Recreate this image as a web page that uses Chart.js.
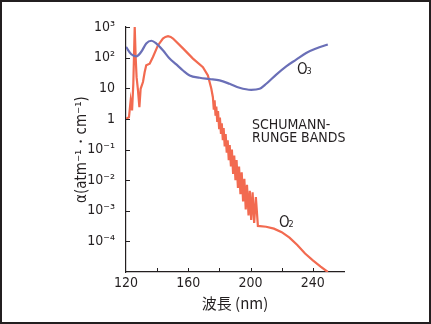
<!DOCTYPE html>
<html>
<head>
<meta charset="utf-8">
<script src="https://cdn.jsdelivr.net/npm/chart.js@4"></script>
<style>
  html, body { margin: 0; padding: 0; background: #fff; }
  canvas { display: block; }
</style>
</head>
<body>
<canvas id="absChart" width="431" height="324"></canvas>
<script>
// absorption cross sections
const o3Wavelength = [120, 123.4, 126.6, 129.8, 133, 136.3, 139.5, 143.7, 148, 152.3, 156.6, 160.9, 167.3, 173.7, 180.1, 186.5, 192.9, 200.4, 205.8, 210.1, 216.5, 222.9, 229.3, 235.7, 242.1, 249.6];
const o3Alpha = [224, 129, 110, 155, 288, 355, 288, 174, 93, 60, 38, 26, 22, 20, 18, 14, 10.4, 8.9, 9.6, 14, 28, 52, 86, 142, 198, 268];

const o2Wavelength = [120, 121.9, 123, 123.9, 124.7, 125.6, 126.2, 126.8, 127.7, 128.6, 129.4, 130.9, 132, 133, 135.2, 137.3, 140.5, 143.7, 145.3, 147, 148.7, 150.2, 156.6, 163, 169.4, 172.6, 174.8,
  175.8, 176.4, 176.9, 177.5, 178, 178.6, 179.1, 179.8, 180.3, 181, 181.5, 182.2, 182.7, 183.4, 184, 184.7, 185.3, 186, 186.6, 187.4, 188, 188.8, 189.5, 190.3, 191, 191.9, 192.6, 193.5, 194.3, 195.2, 196, 196.9, 197.7, 198.7, 199.5, 200.4, 201.3, 202.3, 203.4,
  204.7, 210, 215, 220, 225, 230, 235, 240, 245, 249.6];
const o2Alpha = [1, 1.13, 4, 1.9, 14, 1000, 105, 23, 8.5, 2.4, 9.6, 16, 34, 56, 63, 105, 250, 420, 475, 500, 475, 420, 200, 93, 49, 26, 9.6,
  5.1, 2.0, 4.0, 1.26, 2.5, 0.79, 1.8, 0.5, 1.1, 0.32, 0.71, 0.2, 0.5, 0.126, 0.32, 0.079, 0.2, 0.045, 0.14, 0.028, 0.1, 0.016, 0.063, 0.01, 0.045, 0.0056, 0.028, 0.0035, 0.018, 0.002, 0.011, 0.0011, 0.007, 0.0007, 0.0045, 0.0005, 0.004, 0.0004, 0.0028,
  0.00032, 0.0003, 0.00026, 0.0002, 0.000132, 0.000076, 0.00004, 0.000024, 0.000015, 0.00001];

const yTickValues = [1e-5, 1e-4, 1e-3, 1e-2, 1e-1, 1, 10, 1e2, 1e3];
const yTickLabels = ['', '10⁻⁴', '10⁻³', '10⁻²', '10⁻¹', '1', '10', '10²', '10³'];
const xTickLabels = ['120', '160', '200', '240'];

const NARROW = "'Liberation Sans Narrow', 'DejaVu Sans Condensed', 'Liberation Sans', sans-serif";
const INK = '#231f20';

const toPoints = (xs, ys) => xs.map((x, i) => ({ x: x, y: ys[i] }));

// frame, inward ticks and the text labels inside the plot
const extras = {
  id: 'extras',
  afterDraw(chart) {
    const { ctx, scales: { x, y } } = chart;
    ctx.save();
    ctx.strokeStyle = INK;
    ctx.lineWidth = 1;
    ctx.beginPath();
    yTickValues.slice(1).forEach(v => {
      const py = Math.round(y.getPixelForValue(v)) + 0.5;
      ctx.moveTo(x.left, py); ctx.lineTo(x.left + 4, py);
    });
    for (let v = 140; v < 260; v += 20) {
      const px = Math.round(x.getPixelForValue(v)) + 0.5;
      ctx.moveTo(px, y.bottom); ctx.lineTo(px, y.bottom - 4);
    }
    ctx.stroke();

    ctx.fillStyle = INK;
    ctx.textBaseline = 'alphabetic';
    ctx.textAlign = 'left';
    // O3 label
    ctx.font = "15px " + NARROW;
    ctx.fillText('O', 297, 74);
    ctx.font = "9px " + NARROW;
    ctx.fillText('3', 306.5, 74);
    // O2 label
    ctx.font = "15px " + NARROW;
    ctx.fillText('O', 279, 227);
    ctx.font = "9px " + NARROW;
    ctx.fillText('2', 288.5, 227);
    // band label
    ctx.font = "14px " + NARROW;
    ctx.fillText('SCHUMANN-', 252, 129);
    ctx.fillText('RUNGE BANDS', 252, 142);

    // outer frame
    ctx.lineWidth = 2;
    ctx.strokeRect(1, 1, chart.width - 2, chart.height - 2);
    ctx.restore();
  }
};

new Chart(document.getElementById('absChart'), {
  type: 'line',
  data: {
    datasets: [
      { label: 'O3', data: toPoints(o3Wavelength, o3Alpha), borderColor: '#6a6fb7', borderWidth: 2.2,
        pointRadius: 0, cubicInterpolationMode: 'monotone', fill: false },
      { label: 'O2', data: toPoints(o2Wavelength, o2Alpha), borderColor: '#f26a50', borderWidth: 2.2,
        pointRadius: 0, tension: 0, fill: false }
    ]
  },
  options: {
    responsive: false,
    animation: false,
    layout: { padding: { top: 27, right: 87, left: 0, bottom: 0 } },
    plugins: { legend: { display: false }, tooltip: { enabled: false } },
    scales: {
      x: {
        type: 'linear', min: 120, max: 260,
        afterFit: s => { s.height = 52; },
        afterBuildTicks: s => { s.ticks = [120, 140, 160, 180, 200, 220, 240, 260].map(v => ({ value: v })); },
        ticks: {
          autoSkip: false, maxRotation: 0, padding: 3, color: INK,
          font: { family: NARROW, size: 14 },
          callback: v => xTickLabels.includes(String(v)) ? String(v) : ''
        },
        grid: { display: true, drawOnChartArea: false, drawTicks: false },
        border: { display: true, color: INK, width: 1.2 },
        title: { display: true, text: '波長 (nm)', color: INK, padding: { top: 0, bottom: 12 },
          font: { family: "'Noto Sans CJK JP', " + NARROW, size: 15 } }
      },
      y: {
        type: 'logarithmic', min: 1e-5, max: 1e3,
        afterFit: s => { s.width = 126; },
        afterBuildTicks: s => { s.ticks = yTickValues.map(v => ({ value: v })); },
        ticks: {
          autoSkip: false, padding: 11, color: INK,
          font: { family: NARROW, size: 14 },
          callback: (v, i) => yTickLabels[i]
        },
        grid: { display: true, drawOnChartArea: false, drawTicks: false },
        border: { display: true, color: INK, width: 1.2 },
        title: { display: true, text: 'α(atm⁻¹・cm⁻¹)', color: INK, padding: { top: 73, bottom: 0 },
          font: { family: NARROW, size: 15 } }
      }
    }
  },
  plugins: [extras]
});
</script>
</body>
</html>
